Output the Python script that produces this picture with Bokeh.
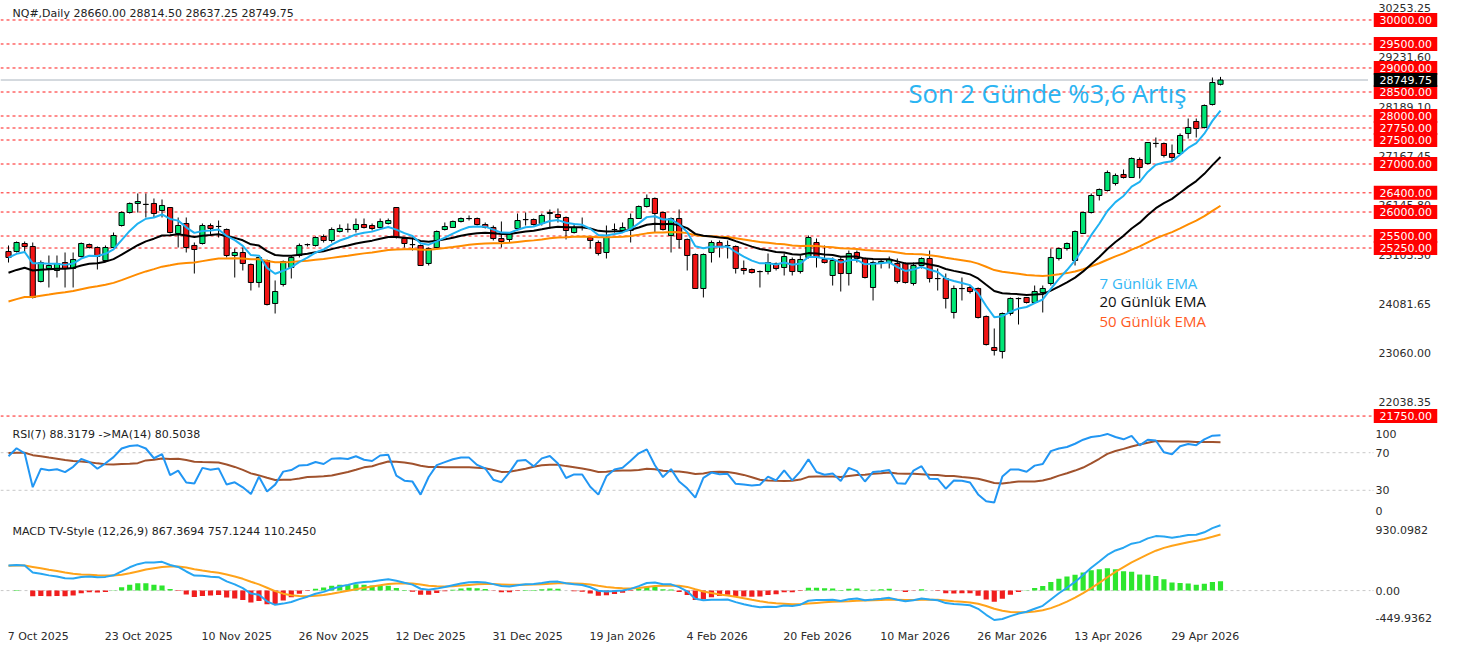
from bokeh.plotting import figure
from bokeh.layouts import column, row
from bokeh.models import Range1d, Label, Span, ColumnDataSource
from bokeh.core.properties import value
from bokeh.embed import file_html
from bokeh.resources import INLINE

# ---------------- data ----------------
open_ = [25178, 25178, 25344, 25282, 24553, 24824, 24782, 24948, 24824, 25073,
         25323, 25261, 24990, 25261, 25719, 25990, 26178, 26157, 26178, 26032,
         26094, 25553, 25761, 25303, 25344, 25719, 25698, 25636, 25094, 25157,
         24907, 24532, 24990, 24095, 24490, 24844, 25094, 25320, 25303, 25490,
         25407, 25594, 25636, 25636, 25740, 25719, 25678, 25761, 26094, 25448,
         25323, 25303, 24928, 25261, 25636, 25678, 25803, 25865, 25865, 25740,
         25678, 25448, 25428, 25657, 25844, 25844, 25761, 25969, 25948, 25886,
         25573, 25678, 25469, 25365, 25157, 25636, 25615, 25615, 25865, 26115,
         26282, 25990, 25511, 25865, 25428, 25115, 24407, 25157, 25365, 25303,
         25282, 24824, 24803, 24761, 24761, 24928, 24844, 25011, 24761, 25053,
         25365, 25011, 24678, 25011, 24719, 25157, 25032, 24428, 24928, 24948,
         24928, 24928, 24511, 24886, 25032, 24615, 24615, 23907, 24407, 24428,
         24407, 23824, 23178, 23095, 23886, 24199, 24220, 24115, 24324, 24511,
         25032, 25240, 24990, 25553, 25990, 26344, 26448, 26594, 26782, 26719,
         27094, 27011, 27427, 27427, 27219, 27219, 27636, 27886, 27761, 28240,
         28660]
high = [25303, 25386, 25386, 25365, 24990, 25094, 25094, 25157, 25157, 25365,
        25344, 25282, 25303, 25573, 26011, 26198, 26386, 26386, 26282, 26261,
        26100, 25886, 25886, 25365, 25761, 25761, 25823, 25657, 25240, 25261,
        24928, 25053, 25011, 24574, 24990, 25094, 25344, 25344, 25490, 25532,
        25678, 25740, 25761, 25865, 25865, 25761, 25865, 25865, 26100, 25469,
        25469, 25323, 25261, 25615, 25782, 25823, 25886, 25928, 25886, 25782,
        25719, 25803, 25573, 25969, 25990, 25865, 25969, 26053, 26073, 25907,
        25761, 25886, 25490, 25407, 25719, 25761, 25782, 25969, 26136, 26365,
        26303, 26011, 25886, 26053, 25448, 25136, 25136, 25407, 25407, 25407,
        25303, 24990, 24824, 24782, 25136, 24948, 25136, 25053, 25094, 25511,
        25448, 25303, 25053, 25053, 25198, 25198, 25053, 24990, 25011, 25073,
        25032, 24948, 24948, 25053, 25198, 24824, 24719, 24469, 24636, 24469,
        24428, 23844, 23574, 23907, 24220, 24220, 24230, 24469, 24469, 25240,
        25261, 25365, 25615, 26011, 26386, 26490, 26865, 26802, 26886, 27136,
        27136, 27448, 27552, 27448, 27406, 27636, 27948, 27948, 28240, 28802,
        28814.5]
low = [24948, 25157, 25157, 24199, 24532, 24428, 24636, 24428, 24428, 25053,
       25240, 24803, 24969, 25261, 25698, 25969, 25990, 25886, 25886, 25886,
       25553, 25261, 25157, 24719, 25323, 25511, 25469, 25053, 24636, 24782,
       24365, 24428, 24053, 23886, 24449, 24615, 25053, 25282, 25282, 25365,
       25365, 25573, 25573, 25573, 25657, 25615, 25657, 25740, 25448, 25261,
       25198, 24886, 24886, 25240, 25615, 25678, 25782, 25823, 25719, 25657,
       25407, 25261, 25365, 25615, 25719, 25719, 25719, 25657, 25782, 25428,
       25553, 25615, 25240, 25094, 25032, 25573, 25573, 25365, 25865, 26094,
       25573, 25615, 25157, 25240, 24782, 24407, 24220, 24948, 25053, 25032,
       24719, 24699, 24719, 24428, 24699, 24782, 24678, 24678, 24719, 25032,
       24844, 24928, 24469, 24344, 24469, 24948, 24615, 24157, 24824, 24824,
       24511, 24511, 24469, 24824, 24532, 24365, 23990, 23782, 24157, 24303,
       23782, 23219, 23011, 22949, 23844, 23657, 24095, 24095, 23907, 24469,
       24990, 25198, 24886, 25553, 25969, 26240, 26428, 26553, 26698, 26719,
       26698, 26990, 27344, 27136, 27052, 27198, 27531, 27552, 27740, 28219,
       28637.25]
close = [25053, 25365, 25282, 24220, 24948, 24886, 24928, 24824, 25011, 25344,
         25261, 25073, 25261, 25511, 25990, 26178, 26219, 26160, 25969, 26136,
         25573, 25719, 25261, 25219, 25719, 25657, 25700, 25094, 25157, 24928,
         24532, 25053, 24074, 24344, 24969, 25053, 25303, 25323, 25469, 25407,
         25636, 25657, 25640, 25740, 25678, 25657, 25803, 25823, 25469, 25344,
         25320, 24886, 25240, 25594, 25698, 25803, 25865, 25862, 25740, 25678,
         25448, 25386, 25553, 25823, 25840, 25740, 25928, 25990, 25886, 25615,
         25678, 25675, 25407, 25136, 25469, 25633, 25678, 25865, 26115, 26282,
         25969, 25636, 25865, 25428, 25094, 24407, 25115, 25365, 25282, 25300,
         24824, 24782, 24740, 24758, 24948, 24824, 25073, 24761, 25011, 25469,
         25053, 24948, 24990, 24719, 25136, 25032, 24636, 24948, 24969, 25011,
         24553, 24532, 24886, 25032, 24615, 24612, 24199, 24407, 24404, 24344,
         23803, 23240, 23116, 23886, 24199, 24196, 24115, 24344, 24407, 25053,
         25240, 25344, 25594, 25990, 26344, 26469, 26823, 26761, 26719, 27115,
         26927, 27448, 27430, 27177, 27136, 27594, 27761, 27740, 28219, 28698,
         28749.75]

date_ticks = [0, 12, 24, 36, 48, 60, 72, 84, 96, 108, 120, 132, 144]
date_labels = ["7 Oct 2025", "23 Oct 2025", "10 Nov 2025", "26 Nov 2025",
               "12 Dec 2025", "31 Dec 2025", "19 Jan 2026", "4 Feb 2026",
               "20 Feb 2026", "10 Mar 2026", "26 Mar 2026", "13 Apr 2026",
               "29 Apr 2026"]

price_ticks = [30253.25, 29231.60, 28189.10, 27167.45, 26145.80, 25103.50,
               24081.65, 23060.00, 22038.35]
levels = [30000, 29500, 29000, 28500, 28000, 27750, 27500, 27000, 26400,
          26000, 25500, 25250, 21750]
last_price = 28749.75
rsi_ticks = [70, 30]
macd_ticks = [0]

# indicator state before the first visible bar
EMA7_START, EMA20_START, EMA50_START = 25050, 24700, 24100
EMA12_START, EMA26_START, SIGNAL_START = 24960, 24610, 330
RSI_PREV_CLOSE, RSI_AVG_GAIN, RSI_AVG_LOSS, RSI_PREV_LEVEL = 25120, 120, 50, 70

# ---------------- indicators ----------------
def ema(values, n, start):
    a = 2.0 / (n + 1)
    out, e = [], start
    for v in values:
        e = e + a * (v - e)
        out.append(e)
    return out

ema7 = ema(close, 7, EMA7_START)
ema20 = ema(close, 20, EMA20_START)
ema50 = ema(close, 50, EMA50_START)

rsi = []
ag, al, pc = RSI_AVG_GAIN, RSI_AVG_LOSS, RSI_PREV_CLOSE
for c in close:
    ch = c - pc
    ag = (ag * 6 + max(ch, 0)) / 7.0
    al = (al * 6 + max(-ch, 0)) / 7.0
    rsi.append(100.0 if al == 0 else 100 - 100 / (1 + ag / al))
    pc = c
hist_r = [RSI_PREV_LEVEL] * 13 + rsi
rsi_ma = [sum(hist_r[i:i + 14]) / 14.0 for i in range(len(rsi))]

e12 = ema(close, 12, EMA12_START)
e26 = ema(close, 26, EMA26_START)
macd = [a - b for a, b in zip(e12, e26)]
signal = ema(macd, 9, SIGNAL_START)
hist = [m - s for m, s in zip(macd, signal)]

# ---------------- layout ----------------
BAR_PX = 8.08
FRAME_W = 1368
SIDE_W = 90
X0 = -8 / BAR_PX
xr = Range1d(X0, X0 + FRAME_W / BAR_PX)
FONT = "DejaVu Sans"
AXC = "#2b2b2b"

MAIN_TOP, MAIN_BOT = 30406, 21574
MAIN_H = 424
RSI_H = 94
MACD_TOP, MACD_BOT = 930.0982, -449.9362
MACD_H = 104


def main_y(py):
    return MAIN_TOP - py * (MAIN_TOP - MAIN_BOT) / MAIN_H


def rsi_y(py):
    return 100 - (py - 424) / RSI_H * 100


def macd_y(py):
    return MACD_TOP - (py - 520) / MACD_H * (MACD_TOP - MACD_BOT)


def clean(p):
    p.xgrid.visible = False
    p.ygrid.visible = False
    p.outline_line_color = None
    p.background_fill_color = "white"
    p.border_fill_color = "white"
    return p


def chart_fig(height, yr, bottom=0):
    return clean(figure(width=FRAME_W, height=height, x_range=xr, y_range=yr,
                        output_backend="svg", toolbar_location=None,
                        min_border_left=0, min_border_right=0, min_border_top=0,
                        min_border_bottom=bottom, x_axis_location=None,
                        y_axis_location=None))


def side_fig(height, yr, bottom=0):
    return clean(figure(width=SIDE_W, height=height, x_range=Range1d(0, SIDE_W),
                        y_range=yr, output_backend="svg", toolbar_location=None,
                        min_border_left=0, min_border_right=0, min_border_top=0,
                        min_border_bottom=bottom, x_axis_location=None,
                        y_axis_location=None))


def side_labels(s, ys, texts, x, color=AXC):
    s.text(x=[x] * len(ys), y=ys, text=texts, text_font=value(FONT),
           text_font_size=value("11px"), text_color=color, text_align="left",
           text_baseline="middle")


def side_boxes(s, ys, texts, fill):
    s.rect(x=[37] * len(ys), y=ys, width=63.5, height=14, width_units="screen",
           height_units="screen", fill_color=fill, line_color=None)
    side_labels(s, ys, texts, 11, color="white")


# ---- main price panel ----
yr_main = Range1d(MAIN_BOT, MAIN_TOP)
main = chart_fig(MAIN_H, yr_main)
for lv in levels:
    main.add_layout(Span(location=lv, dimension="width", line_color="#ff1a1a",
                         line_dash="3 3", line_width=1, level="underlay"))
main.add_layout(Span(location=last_price, dimension="width", line_color="#aab4be",
                     line_width=1, level="underlay"))

n = len(close)
idx = list(range(n))
src = ColumnDataSource(dict(
    x=idx, o=open_, h=high, l=low, c=close,
    top=[max(a, b) for a, b in zip(open_, close)],
    bottom=[min(a, b) for a, b in zip(open_, close)],
    color=["#00e676" if c >= o else "#f21414" for o, c in zip(open_, close)],
))
main.segment(x0="x", y0="h", x1="x", y1="l", source=src, line_color="black",
             line_width=1)
main.vbar(x="x", top="top", bottom="bottom", width=0.64, source=src,
          fill_color="color", line_color="black", line_width=1)

main.line(idx, ema50, line_color="#ff8c00", line_width=2)
main.line(idx, ema20, line_color="#000000", line_width=2)
main.line(idx, ema7, line_color="#1fb2f2", line_width=2)

main.add_layout(Label(x=12, y=main_y(13), x_units="screen", y_units="data",
                      text="NQ#,Daily  28660.00 28814.50 28637.25 28749.75",
                      text_font=FONT, text_font_size="11px", text_color="#222222",
                      text_baseline="middle"))
main.add_layout(Label(x=908 / BAR_PX + X0, y=main_y(93), text="Son 2 Günde %3,6 Artış",
                      text_font="Open Sans", text_font_size="25.6px",
                      text_color="#2ab4f2", text_baseline="middle"))
for py, txt, col in [(282, "7 Günlük EMA", "#33b7f5"),
                     (300, "20 Günlük EMA", "#111111"),
                     (320, "50 Günlük EMA", "#ff5a1f")]:
    main.add_layout(Label(x=1099 / BAR_PX + X0, y=main_y(py), text=txt,
                          text_font="Open Sans", text_font_size="15px",
                          text_color=col, text_baseline="middle"))

main_side = side_fig(MAIN_H, yr_main)
side_labels(main_side, price_ticks, [f"{t:.2f}" for t in price_ticks], 10)
main_side.segment(x0=[0] * len(levels), y0=levels, x1=[5] * len(levels), y1=levels,
                  line_color="#ff1a1a", line_dash="3 3", line_width=1)
side_boxes(main_side, levels, [f"{lv:.2f}" for lv in levels], "#ff0000")
side_boxes(main_side, [last_price], [f"{last_price:.2f}"], "#000000")

# ---- RSI panel ----
yr_rsi = Range1d(0, 100)
rp = chart_fig(RSI_H + 2, yr_rsi, 2)
for lv in rsi_ticks:
    rp.add_layout(Span(location=lv, dimension="width", line_color="#c8c8c8",
                       line_dash="3 3", line_width=1, level="underlay"))
rp.line(idx, rsi_ma, line_color="#a0522d", line_width=2)
rp.line(idx, rsi, line_color="#2196f3", line_width=2)
rp.add_layout(Label(x=12, y=rsi_y(434), x_units="screen", y_units="data",
                    text="RSI(7) 88.3179  ->MA(14) 80.5038",
                    text_font=FONT, text_font_size="11px", text_color="#222222",
                    text_baseline="middle"))
rsi_side = side_fig(RSI_H + 2, yr_rsi, 2)
rsi_side.segment(x0=[0, 0], y0=rsi_ticks, x1=[5, 5], y1=rsi_ticks,
                 line_color="#c8c8c8", line_dash="2 2")
side_labels(rsi_side, [rsi_y(433)] + rsi_ticks + [rsi_y(510)],
            ["100"] + [str(t) for t in rsi_ticks] + ["0"], 7)

# ---- MACD panel ----
yr_macd = Range1d(MACD_BOT, MACD_TOP)
mp = chart_fig(MACD_H, yr_macd)
mp.add_layout(Span(location=0, dimension="width", line_color="#c8c8c8",
                   line_dash="3 3", line_width=1, level="underlay"))
msrc = ColumnDataSource(dict(x=idx, h=hist,
                             color=["#2ee62e" if v >= 0 else "#f01e1e" for v in hist]))
mp.vbar(x="x", top="h", bottom=0, width=0.64, source=msrc, fill_color="color",
        line_color=None)
mp.line(idx, signal, line_color="#ffa31a", line_width=2)
mp.line(idx, macd, line_color="#27a6f2", line_width=2)
mp.add_layout(Label(x=12, y=macd_y(531), x_units="screen", y_units="data",
                    text="MACD TV-Style (12,26,9) 867.3694 757.1244 110.2450",
                    text_font=FONT, text_font_size="11px", text_color="#222222",
                    text_baseline="middle"))
macd_side = side_fig(MACD_H, yr_macd)
macd_side.segment(x0=[0], y0=macd_ticks, x1=[5], y1=macd_ticks,
                  line_color="#c8c8c8", line_dash="2 2")
side_labels(macd_side, [macd_y(529)] + macd_ticks + [macd_y(617)],
            ["930.0982"] + [f"{t:.2f}" for t in macd_ticks] + ["-449.9362"], 7)

# ---- time scale strip ----
strip = chart_fig(24, Range1d(0, 24))
strip.text(x=[t - 0.1 for t in date_ticks], y=[12] * len(date_ticks), text=date_labels,
           text_font=value(FONT), text_font_size=value("11px"), text_color=AXC,
           text_align="left", text_baseline="middle")

layout = column(row(main, main_side, spacing=0),
                row(rp, rsi_side, spacing=0),
                row(mp, macd_side, spacing=0),
                strip, spacing=0)
open("out.html", "w").write(file_html(layout, INLINE))
